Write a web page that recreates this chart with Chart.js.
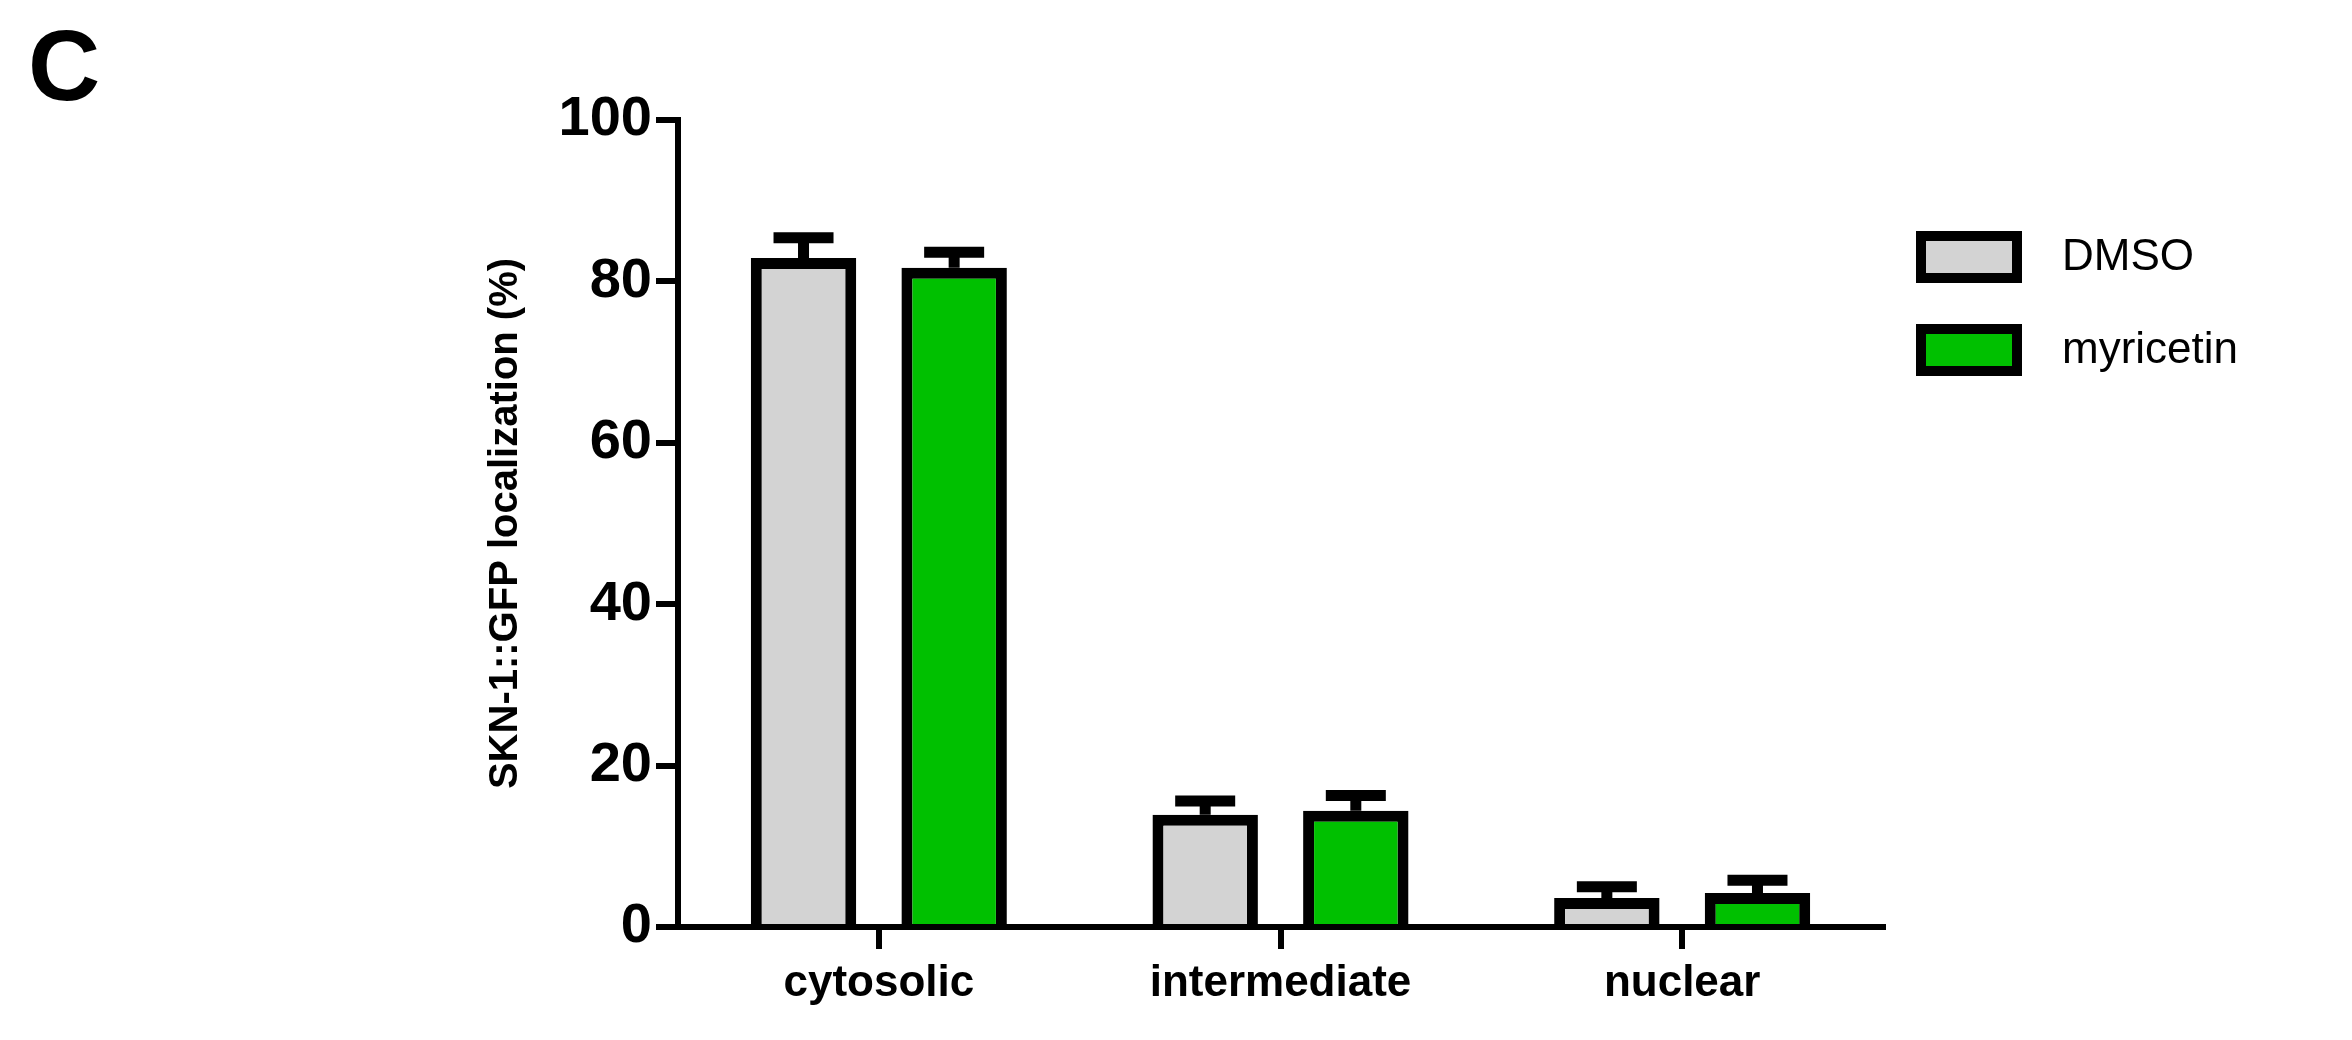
<!DOCTYPE html>
<html><head><meta charset="utf-8">
<script src="https://cdn.jsdelivr.net/npm/chart.js@4"></script>
<style>html,body{margin:0;background:#fff}#wrap{width:2352px;height:1040px}</style>
</head><body><div id="wrap"><canvas id="c"></canvas></div>
<script>
const categories=['cytosolic','intermediate','nuclear'];
const dmso=[82.9,13.9,3.6], dmsoErr=[2.5,1.7,1.4];
const myr=[81.7,14.4,4.2], myrErr=[1.9,1.9,1.6];
const yTicks=[0,20,40,60,80,100];
const F='"Liberation Sans",Arial,sans-serif';

const errBars={id:'errBars',afterDatasetsDraw(ch){
 const x=ch.ctx, y=ch.scales.y;
 [dmsoErr,myrErr].forEach((errs,di)=>{
  ch.getDatasetMeta(di).data.forEach((b,i)=>{
   const top=y.getPixelForValue(ch.data.datasets[di].data[i]+errs[i]);
   x.save();x.strokeStyle='#000';x.lineWidth=11;x.lineCap='butt';
   x.beginPath();x.moveTo(b.x,b.y);x.lineTo(b.x,top);
   x.moveTo(b.x-30,top);x.lineTo(b.x+30,top);x.stroke();x.restore();
  });
 });
}};
const extras={id:'extras',afterDraw(ch){
 const x=ch.ctx;x.save();
 x.fillStyle='#000';x.font='bold 100px '+F;x.textBaseline='top';x.fillText('C',28,22);
 ch.data.datasets.forEach((d,i)=>{
  const ty=236+i*93;
  x.fillStyle=d.backgroundColor;x.fillRect(1921,ty,96,42);
  x.lineWidth=10;x.strokeStyle='#000';x.strokeRect(1921,ty,96,42);
  x.fillStyle='#000';x.font='44px '+F;x.textBaseline='middle';x.fillText(d.label,2062,ty+22);
 });
 x.restore();
}};

new Chart(document.getElementById('c'),{type:'bar',
 data:{labels:categories,datasets:[
  {label:'DMSO',data:dmso,backgroundColor:'#d3d3d3',borderColor:'#000',borderWidth:11,borderSkipped:'bottom'},
  {label:'myricetin',data:myr,backgroundColor:'#00c000',borderColor:'#000',borderWidth:11,borderSkipped:'bottom'}]},
 options:{responsive:true,maintainAspectRatio:false,animation:false,
  categoryPercentage:0.75,barPercentage:0.7,
  layout:{padding:{left:470,top:120,right:469,bottom:0}},
  plugins:{legend:{display:false},tooltip:{enabled:false}},
  scales:{
   x:{grid:{drawOnChartArea:false,offset:false,tickLength:22,color:'#000',lineWidth:6},
      border:{color:'#000',width:6},
      ticks:{color:'#000',font:{family:F,size:44,weight:'bold'},padding:8},
      afterFit(s){s.height=113;}},
   y:{min:0,max:100,afterBuildTicks(s){s.ticks=yTicks.map(v=>({value:v}));},
      grid:{drawOnChartArea:false,tickLength:22,color:'#000',lineWidth:6},
      border:{color:'#000',width:6},
      ticks:{color:'#000',font:{family:F,size:56,weight:'bold'},padding:4},
      title:{display:true,text:'SKN-1::GFP localization (%)',color:'#000',font:{family:F,size:40,weight:'bold'},padding:{top:12,bottom:0}},
      afterFit(s){s.width=208;}}
  }},
 plugins:[errBars,extras]});
</script></body></html>
